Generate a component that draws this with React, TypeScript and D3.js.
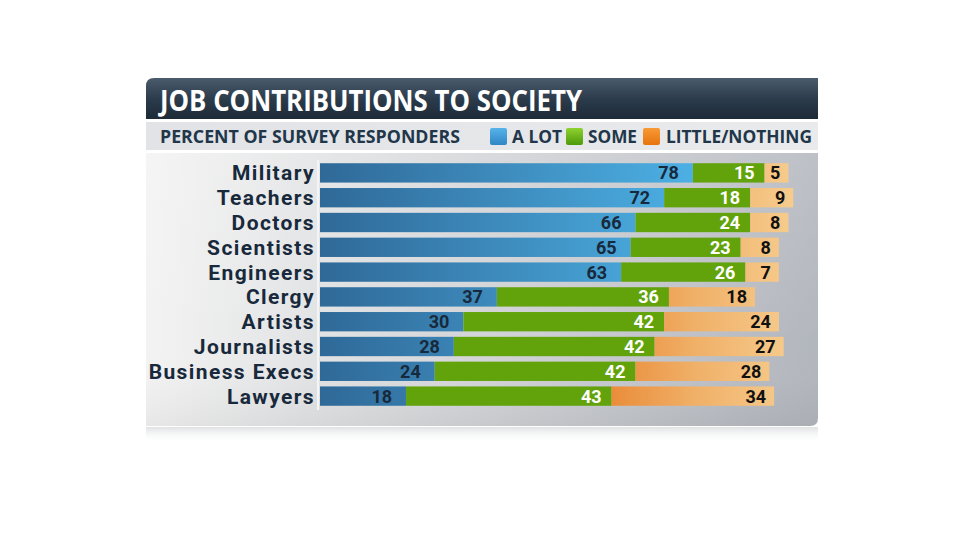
import React from "react";
import * as d3 from "d3";

const categories = ["Military", "Teachers", "Doctors", "Scientists", "Engineers", "Clergy", "Artists", "Journalists", "Business Execs", "Lawyers"];
const aLot = [78, 72, 66, 65, 63, 37, 30, 28, 24, 18];
const some = [15, 18, 24, 23, 26, 36, 42, 42, 42, 43];
const little = [5, 9, 8, 8, 7, 18, 24, 27, 28, 34];
const seriesNames = ["A LOT", "SOME", "LITTLE/NOTHING"];

const W = 960, H = 540;
const FONT = "'Open Sans', sans-serif";
const LFONT = "Roboto, sans-serif";
const NAVY = "#17293b";

export default function App() {
  const x = d3.scaleLinear().domain([0, 100]).range([320, 798]);
  const y = d3.scaleBand<string>().domain(categories).range([160.5, 408.5]).paddingInner(0.22).paddingOuter(0.11);
  const rows = categories.map((c, i) => ({ c, a: aLot[i], s: some[i], l: little[i] }));
  const bh = y.bandwidth();

  return (
    <svg width={W} height={H} style={{ position: "absolute", left: 0, top: 0, background: "#fff" }}>
      <defs>
        <linearGradient id="title" x1="0" y1="0" x2="0" y2="1">
          <stop offset="0" stopColor="#4a5b6b" />
          <stop offset="0.5" stopColor="#2c3c4c" />
          <stop offset="1" stopColor="#1d2a37" />
        </linearGradient>
        <linearGradient id="sub" x1="0" y1="0" x2="1" y2="0">
          <stop offset="0" stopColor="#e1e3e6" />
          <stop offset="1" stopColor="#e8eaec" />
        </linearGradient>
        <linearGradient id="panel" x1="0" y1="0" x2="1" y2="0">
          <stop offset="0" stopColor="#f3f3f3" />
          <stop offset="0.3" stopColor="#dfe0e2" />
          <stop offset="1" stopColor="#b2b6bd" />
        </linearGradient>
        <linearGradient id="panelV" x1="0" y1="0" x2="0" y2="1">
          <stop offset="0" stopColor="#ffffff" stopOpacity="0.15" />
          <stop offset="0.7" stopColor="#ffffff" stopOpacity="0" />
          <stop offset="1" stopColor="#000000" stopOpacity="0.05" />
        </linearGradient>
        <linearGradient id="blue" gradientUnits="userSpaceOnUse" x1="320" y1="0" x2="700" y2="0">
          <stop offset="0" stopColor="#2f6998" />
          <stop offset="1" stopColor="#4db1e5" />
        </linearGradient>
        <linearGradient id="orange" gradientUnits="userSpaceOnUse" x1="600" y1="0" x2="790" y2="0">
          <stop offset="0" stopColor="#e98834" />
          <stop offset="0.5" stopColor="#f0b068" />
          <stop offset="1" stopColor="#f6cb8c" />
        </linearGradient>
        <linearGradient id="refl" x1="0" y1="0" x2="0" y2="1">
          <stop offset="0" stopColor="#d8dadd" stopOpacity="0.8" />
          <stop offset="1" stopColor="#ffffff" stopOpacity="0" />
        </linearGradient>
        <linearGradient id="swB" x1="0" y1="0" x2="0" y2="1">
          <stop offset="0" stopColor="#58b3ea" />
          <stop offset="1" stopColor="#2f86c4" />
        </linearGradient>
        <linearGradient id="swG" x1="0" y1="0" x2="0" y2="1">
          <stop offset="0" stopColor="#8fd130" />
          <stop offset="1" stopColor="#4e9a0a" />
        </linearGradient>
        <linearGradient id="swO" x1="0" y1="0" x2="0" y2="1">
          <stop offset="0" stopColor="#f79a36" />
          <stop offset="1" stopColor="#e8740e" />
        </linearGradient>
      </defs>

      {/* reflection below panel */}
      <rect x={146} y={427} width={672} height={16} fill="url(#refl)" />

      {/* title bar */}
      <path d="M146,86 Q146,78 154,78 L818,78 L818,119 L146,119 Z" fill="url(#title)" />
      <text x={160} y={111} fill="#fff" fontFamily={FONT} fontWeight={700} fontSize={28} textLength={422} lengthAdjust="spacingAndGlyphs">JOB CONTRIBUTIONS TO SOCIETY</text>

      {/* subtitle band */}
      <rect x={146} y={122} width={672} height={28} fill="url(#sub)" />
      <text x={160} y={143} fill="#22364a" fontFamily={FONT} fontWeight={700} fontSize={17} textLength={300} lengthAdjust="spacingAndGlyphs">PERCENT OF SURVEY RESPONDERS</text>

      {/* legend */}
      {[{ f: "url(#swB)", sx: 490, tx: 512, tw: 50 }, { f: "url(#swG)", sx: 566, tx: 588, tw: 49 }, { f: "url(#swO)", sx: 643, tx: 666, tw: 146 }].map((d, i) => (
        <g key={i}>
          <rect x={d.sx} y={128} width={17} height={17} rx={2} fill={d.f} />
          <text x={d.tx} y={143} fill="#22364a" fontFamily={FONT} fontWeight={700} fontSize={17} textLength={d.tw} lengthAdjust="spacingAndGlyphs">{seriesNames[i]}</text>
        </g>
      ))}

      {/* chart panel */}
      <path d="M146,153 L818,153 L818,418 Q818,426 810,426 L146,426 Z" fill="url(#panel)" />
      <path d="M146,153 L818,153 L818,418 Q818,426 810,426 L146,426 Z" fill="url(#panelV)" />

      {/* axis line */}
      <line x1={318} x2={318} y1={160} y2={410} stroke="#f4f4f4" strokeWidth={2} />

      {rows.map((r) => {
        const yy = y(r.c)!;
        const cy = yy + bh / 2 + 6.5;
        const x0 = x(0), x1 = x(r.a), x2 = x(r.a + r.s), x3 = x(r.a + r.s + r.l);
        return (
          <g key={r.c}>
            <text x={315} y={cy + 1} textAnchor="end" fill={NAVY} fontFamily={LFONT} fontWeight={700} fontSize={21} letterSpacing={1.4}>{r.c}</text>
            <rect x={x0} y={yy} width={x1 - x0} height={bh} fill="url(#blue)" />
            <rect x={x1} y={yy} width={x2 - x1} height={bh} fill="#62a30b" />
            <rect x={x2} y={yy} width={x3 - x2} height={bh} fill="url(#orange)" />
            <text x={x1 - 14} y={cy} textAnchor="end" fill={NAVY} fontFamily={LFONT} fontWeight={700} fontSize={18}>{r.a}</text>
            <text x={x2 - 10} y={cy} textAnchor="end" fill="#fff" fontFamily={LFONT} fontWeight={700} fontSize={18}>{r.s}</text>
            <text x={x3 - 8} y={cy} textAnchor="end" fill="#111" fontFamily={LFONT} fontWeight={700} fontSize={18}>{r.l}</text>
          </g>
        );
      })}
    </svg>
  );
}
